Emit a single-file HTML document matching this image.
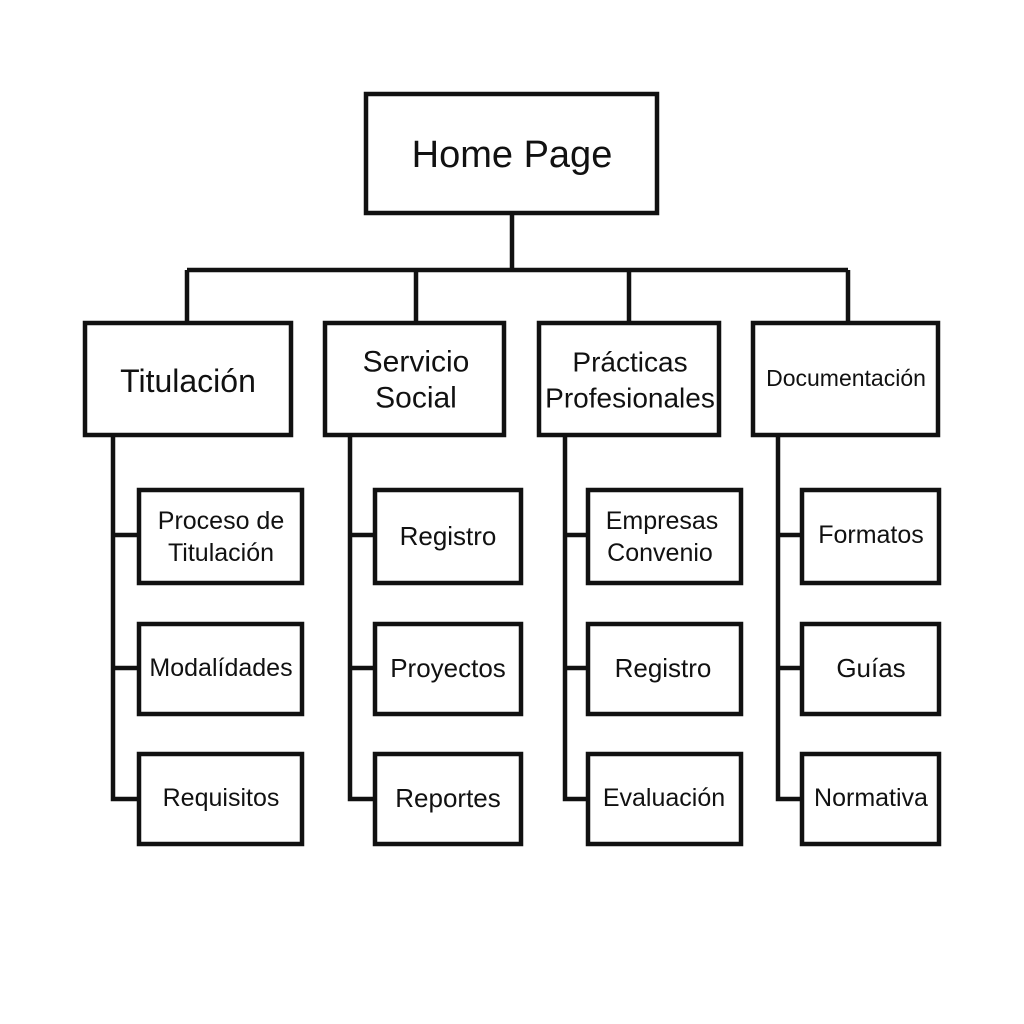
<!DOCTYPE html>
<html><head><meta charset="utf-8"><style>
html,body{margin:0;padding:0;background:#fff;}
svg{display:block;}
text{font-family:"Liberation Sans","DejaVu Sans",sans-serif;fill:#111;text-anchor:middle;dominant-baseline:central;}
</style></head><body>
<svg width="1024" height="1024" viewBox="0 0 1024 1024">
<g fill="none" stroke="#111" stroke-width="4.5">
<rect x="366" y="94" width="291" height="119"/>
<path d="M512 213V270M187 270H848M187 270V323M416 270V323M629 270V323M848 270V323"/>
<rect x="85" y="323" width="206" height="112"/>
<rect x="325" y="323" width="179" height="112"/>
<rect x="539" y="323" width="180" height="112"/>
<rect x="753" y="323" width="185" height="112"/>
<path d="M113 435V799H139M113 535H139M113 668H139"/>
<path d="M350 435V799H375M350 535H375M350 668H375"/>
<path d="M565 435V799H588M565 535H588M565 668H588"/>
<path d="M778 435V799H802M778 535H802M778 668H802"/>
<rect x="139" y="490" width="163" height="93"/>
<rect x="139" y="624" width="163" height="90"/>
<rect x="139" y="754" width="163" height="90"/>
<rect x="375" y="490" width="146" height="93"/>
<rect x="375" y="624" width="146" height="90"/>
<rect x="375" y="754" width="146" height="90"/>
<rect x="588" y="490" width="153" height="93"/>
<rect x="588" y="624" width="153" height="90"/>
<rect x="588" y="754" width="153" height="90"/>
<rect x="802" y="490" width="137" height="93"/>
<rect x="802" y="624" width="137" height="90"/>
<rect x="802" y="754" width="137" height="90"/>
</g>
<text x="512" y="155" font-size="38">Home Page</text>
<text x="188" y="381" font-size="32">Titulación</text>
<text x="416" y="362" font-size="30">Servicio</text>
<text x="416" y="398" font-size="30">Social</text>
<text x="630" y="362" font-size="28">Prácticas</text>
<text x="630" y="398" font-size="28">Profesionales</text>
<text x="846" y="378" font-size="23">Documentación</text>
<text x="221" y="521" font-size="25">Proceso de</text>
<text x="221" y="553" font-size="25">Titulación</text>
<text x="221" y="668" font-size="25">Modalídades</text>
<text x="221" y="798" font-size="25">Requisitos</text>
<text x="448" y="536" font-size="26">Registro</text>
<text x="448" y="668" font-size="26">Proyectos</text>
<text x="448" y="798" font-size="26">Reportes</text>
<text x="662" y="521" font-size="25">Empresas</text>
<text x="660" y="553" font-size="25">Convenio</text>
<text x="663" y="668" font-size="26">Registro</text>
<text x="664" y="798" font-size="25">Evaluación</text>
<text x="871" y="535" font-size="25">Formatos</text>
<text x="871" y="668" font-size="26">Guías</text>
<text x="871" y="798" font-size="25">Normativa</text>
</svg>
</body></html>
